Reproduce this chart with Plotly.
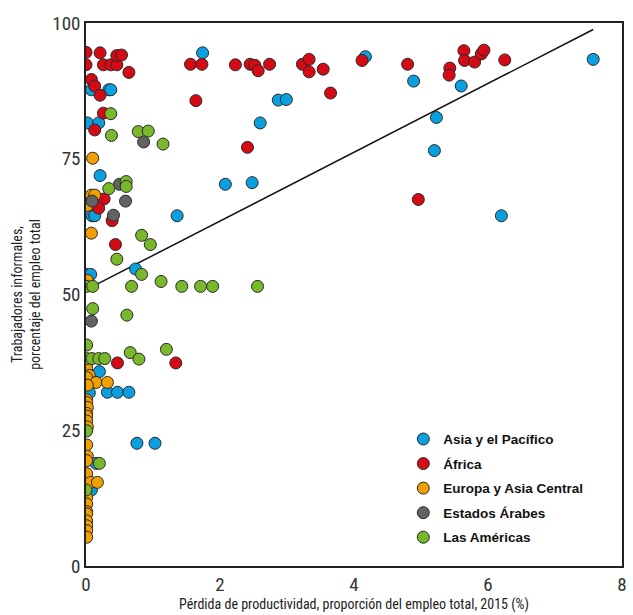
import plotly.graph_objects as go

# ---- data ----
asia_x = [0.08, 0.34, 0.37, 0.02, 0.19, 0.21, 0.09, 0.13, 1.36, 0.74, 0.00, 0.07, 0.20, 0.01, 0.05,
          0.32, 0.47, 0.64, 0.76, 1.03, 0.15, 0.08, 1.74, 2.87, 2.99, 2.60, 2.08, 2.48, 4.17, 4.89,
          5.60, 5.23, 5.20, 7.57, 6.20]
asia_y = [87.7, 87.7, 87.7, 81.6, 81.6, 71.9, 64.5, 64.5, 64.5, 54.7, 53.7, 53.7, 35.8, 32.0, 31.9,
          32.0, 32.0, 32.0, 22.6, 22.6, 18.9, 14.0, 94.5, 85.8, 85.9, 81.6, 70.3, 70.6, 93.8, 89.3,
          88.4, 82.6, 76.5, 93.3, 64.5]

africa_x = [0.00, 0.21, 0.00, 0.26, 0.37, 0.46, 0.46, 0.53, 0.64, 0.08, 0.13, 0.21, 0.26, 0.13, 0.27,
            0.19, 0.39, 0.44, 0.01, 0.47, 1.34, 1.56, 1.73, 2.23, 2.45, 2.52, 2.57, 2.74, 3.23, 3.33,
            3.33, 3.54, 4.12, 4.80, 1.64, 3.65, 2.41, 5.43, 5.42, 5.64, 5.65, 5.80, 5.90, 5.94, 6.25,
            4.96]
africa_y = [94.6, 94.5, 92.3, 92.3, 92.3, 92.3, 94.0, 94.1, 90.9, 89.6, 88.4, 86.7, 83.4, 80.3, 67.6,
            65.9, 63.6, 59.2, 37.4, 37.4, 37.4, 92.4, 92.4, 92.3, 92.4, 92.2, 91.2, 92.4, 92.4, 93.3,
            91.0, 91.5, 93.1, 92.4, 85.7, 87.1, 77.1, 91.7, 90.4, 94.9, 93.1, 92.8, 94.3, 95.0, 93.2,
            67.5]

europa_x = [0.10, 0.08, 0.13, 0.02, 0.08, 0.02, 0.01, 0.05, 0.01, 0.15, 0.32, 0.02, 0.01, 0.01, 0.02,
            0.01, 0.01, 0.01, 0.02, 0.01, 0.02, 0.01, 0.01, 0.01, 0.01, 0.07, 0.17, 0.01, 0.01, 0.01,
            0.01, 0.01, 0.01]
europa_y = [75.1, 68.3, 68.3, 66.4, 61.3, 52.6, 36.4, 35.1, 34.7, 33.8, 33.8, 33.3, 30.6, 30.1, 29.2,
            28.1, 27.6, 26.7, 25.6, 22.3, 20.2, 19.4, 17.0, 12.6, 11.4, 15.4, 15.4, 10.0, 9.6, 8.3,
            7.4, 6.5, 5.3]

arabes_x = [0.86, 0.50, 0.09, 0.59, 0.41, 0.08]
arabes_y = [78.1, 70.3, 67.2, 67.2, 64.6, 45.1]

americas_x = [0.37, 0.38, 0.78, 0.93, 1.15, 0.60, 0.60, 0.34, 0.83, 0.96, 0.46, 0.83, 0.01, 0.10, 0.68,
              1.12, 1.43, 1.71, 1.89, 2.56, 0.10, 0.61, 0.01, 0.66, 1.20, 0.79, 0.01, 0.09, 0.19, 0.28,
              0.01, 0.20, 0.00]
americas_y = [83.3, 79.3, 80.0, 80.1, 77.7, 70.8, 69.9, 69.5, 60.9, 59.2, 56.5, 53.7, 51.5, 51.5, 51.5,
              52.4, 51.5, 51.5, 51.5, 51.5, 47.4, 46.2, 40.7, 39.3, 39.9, 38.1, 38.2, 38.2, 38.2, 38.2,
              24.9, 18.9, 14.0]

trend_x = [0.10, 7.57]
trend_y = [51.5, 98.8]

x_ticks = [0, 2, 4, 6, 8]
y_ticks = [0, 25, 50, 75, 100]

series = [
    ("Asia y el Pacífico", asia_x, asia_y, "#0aa0e0"),
    ("África", africa_x, africa_y, "#d40a14"),
    ("Europa y Asia Central", europa_x, europa_y, "#f0a000"),
    ("Estados Árabes", arabes_x, arabes_y, "#626262"),
    ("Las Américas", americas_x, americas_y, "#78b82a"),
]

NARROW = "Liberation Sans Narrow, Arial Narrow, Roboto Condensed, sans-serif"

fig = go.Figure()
fig.add_trace(go.Scatter(x=trend_x, y=trend_y, mode="lines",
                         line=dict(color="#111111", width=1.5), showlegend=False, hoverinfo="skip"))
for name, xs, ys, col in series:
    fig.add_trace(go.Scatter(
        x=xs, y=ys, mode="markers", name="<b>" + name + "</b>", legendgroup=name,
        marker=dict(size=12, color=col, line=dict(color="#2a2a2a", width=1)),
    ))

fig.update_layout(
    width=633, height=615,
    margin=dict(l=86, r=6, t=23, b=48),
    paper_bgcolor="white", plot_bgcolor="white",
    font=dict(family=NARROW, color="#333333"),
    legend=dict(x=0.592, y=0.262, xanchor="left", yanchor="top",
                bgcolor="rgba(0,0,0,0)",
                font=dict(family="Liberation Sans, Arial, sans-serif", size=13.5, color="#111111"),
                tracegroupgap=4, itemwidth=30),
    showlegend=True,
)
fig.update_xaxes(range=[0, 8], tickvals=x_ticks, showgrid=False, zeroline=False,
                 showline=True, linecolor="#222222", linewidth=1.5, mirror=True,
                 ticks="", tickfont=dict(size=19, family=NARROW, color="#333333"),
                 title=dict(text="Pérdida de productividad, proporción del empleo total, 2015 (%)",
                            font=dict(size=14, family=NARROW, color="#222222"), standoff=4))
fig.update_yaxes(range=[0, 100], tickvals=y_ticks, showgrid=False, zeroline=False,
                 showline=True, linecolor="#222222", linewidth=1.5, mirror=True,
                 ticks="", tickfont=dict(size=19, family=NARROW, color="#333333"),
                 title=dict(text="Trabajadores informales,<br>porcentaje del empleo total",
                            font=dict(size=14, family=NARROW, color="#222222"), standoff=8))

fig.write_html("out.html")
